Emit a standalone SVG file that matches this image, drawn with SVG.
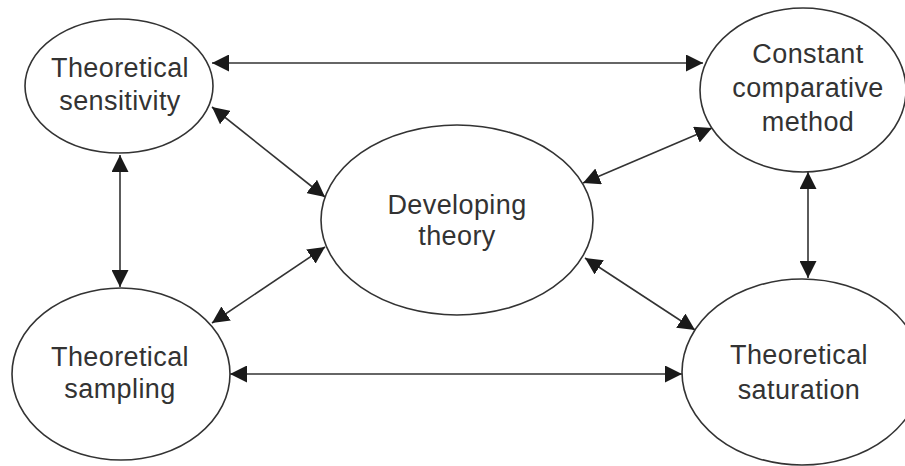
<svg xmlns="http://www.w3.org/2000/svg" width="905" height="466" viewBox="0 0 905 466">
  <style>
    .node ellipse { fill: #ffffff; stroke: #333333; stroke-width: 1.6; }
    .node text { font-family: "Liberation Sans", Arial, Helvetica, sans-serif; font-size: 27px; fill: #333333; text-anchor: middle; letter-spacing: 0.4px; }
    .edges line { stroke: #333333; stroke-width: 1.6; marker-start: url(#head); marker-end: url(#head); }
  </style>
  <defs>
    <marker id="head" markerUnits="userSpaceOnUse" markerWidth="18" markerHeight="17" refX="17" refY="8.5" orient="auto-start-reverse" viewBox="0 0 18 17">
      <path d="M0,0 L17,8.5 L0,17 Z" fill="#1a1a1a"/>
    </marker>
  </defs>
  <rect width="905" height="466" fill="#ffffff"/>

  <g class="edges">
    <line x1="212" y1="63" x2="703" y2="63"/>
    <line x1="212" y1="107" x2="325" y2="197"/>
    <line x1="120" y1="155" x2="120" y2="287"/>
    <line x1="583" y1="183" x2="712" y2="128"/>
    <line x1="808" y1="172" x2="808" y2="278"/>
    <line x1="325" y1="247" x2="212" y2="323"/>
    <line x1="585" y1="258" x2="695" y2="330"/>
    <line x1="230" y1="374" x2="682" y2="374"/>
  </g>

  <g id="theoretical-sensitivity" class="node">
    <ellipse cx="119" cy="86" rx="94" ry="67"/>
    <text x="120" y="77">Theoretical</text>
    <text x="120" y="110">sensitivity</text>
  </g>

  <g id="constant-comparative-method" class="node">
    <ellipse cx="803" cy="90" rx="103" ry="82"/>
    <text x="808" y="63">Constant</text>
    <text x="808" y="97">comparative</text>
    <text x="808" y="131">method</text>
  </g>

  <g id="developing-theory" class="node">
    <ellipse cx="457" cy="220" rx="136" ry="95"/>
    <text x="457" y="214">Developing</text>
    <text x="457" y="245">theory</text>
  </g>

  <g id="theoretical-sampling" class="node">
    <ellipse cx="121" cy="374" rx="109" ry="86"/>
    <text x="120" y="366">Theoretical</text>
    <text x="120" y="398">sampling</text>
  </g>

  <g id="theoretical-saturation" class="node">
    <ellipse cx="802" cy="372" rx="120" ry="93"/>
    <text x="799" y="364">Theoretical</text>
    <text x="799" y="399">saturation</text>
  </g>
</svg>
